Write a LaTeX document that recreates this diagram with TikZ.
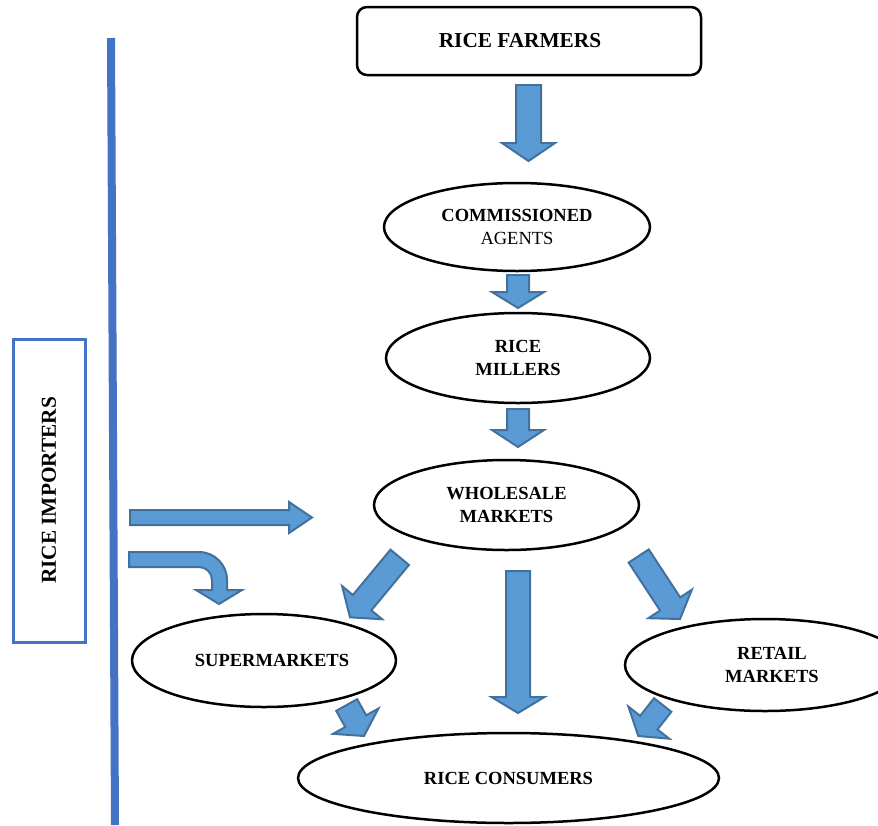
\documentclass[tikz,border=0pt]{standalone}
\usepackage{fontspec}
\setmainfont{Liberation Serif}
\usetikzlibrary{calc,shapes.geometric}
\definecolor{arrowfill}{HTML}{5B9BD5}
\definecolor{arrowline}{HTML}{41719C}
\definecolor{impblue}{HTML}{4472C4}
% #1 tail coordinate, #2 tip coordinate, #3 half shaft width, #4 half head width, #5 head length
\newcommand\blockarrow[5]{%
  \coordinate (b-#2) at ($(#2)!#5pt!(#1)$);
  \draw[barrow] ($(#1)!#3pt!90:(#2)$) -- ($(b-#2)!#3pt!-90:(#1)$) -- ($(b-#2)!#4pt!-90:(#1)$)
    -- (#2) -- ($(b-#2)!#4pt!90:(#1)$) -- ($(b-#2)!#3pt!90:(#1)$) -- ($(#1)!#3pt!-90:(#2)$) -- cycle;
}
\begin{document}
\begin{tikzpicture}[x=1pt,y=-1pt,
  barrow/.style={fill=arrowfill,draw=arrowline,line width=2pt,line join=miter},
  oval/.style={ellipse,draw=black,line width=2.5pt,inner sep=0pt,align=center,
    font=\fontsize{18.5}{22.5}\selectfont\bfseries},
  boxtext/.style={font=\fontsize{21.3}{25}\selectfont\bfseries}]
\path[use as bounding box,clip] (0,0) rectangle (878,825);

% nodes
\node[draw,line width=2.5pt,rounded corners=10pt,minimum width=344pt,minimum height=68pt,boxtext] (farmers) at (529,41) {RICE FARMERS\hspace*{18pt}};
\node[oval,minimum width=266pt,minimum height=88pt] (agents) at (517,227) {COMMISSIONED\\{\mdseries AGENTS}};
\node[oval,minimum width=264pt,minimum height=90pt] (millers) at (518,358) {RICE\\MILLERS};
\node[oval,minimum width=265pt,minimum height=90pt] (wholesale) at (506.5,505) {WHOLESALE\\MARKETS};
\node[oval,minimum width=264pt,minimum height=93pt] (super) at (264,660.5) {\hspace*{16pt}SUPERMARKETS};
\node[oval,minimum width=280pt,minimum height=92pt] (retail) at (765,665) {\hspace*{14pt}RETAIL\\\hspace*{14pt}MARKETS};
\node[oval,minimum width=421pt,minimum height=90pt] (consumers) at (508.5,778) {RICE CONSUMERS};
\node[draw=impblue,line width=3pt,rotate=90,minimum width=303pt,minimum height=72pt,boxtext] (importers) at (49,490.5) {RICE IMPORTERS};

% vertical divider
\coordinate (vtop) at (111,38);
\coordinate (vbot) at (115,825);
\draw[impblue,line width=8pt] (vtop) -- (vbot);

% arrow end points
\coordinate (a1s) at (528.5,85);   \coordinate (a1e) at (528.5,161);
\coordinate (a2s) at (518,275);    \coordinate (a2e) at (518,308);
\coordinate (a3s) at (518,409);    \coordinate (a3e) at (518,447);
\coordinate (hs) at (130,517.5);   \coordinate (he) at (312,517.5);
\coordinate (dls) at (399.7,557.3); \coordinate (dle) at (350,617.3);
\coordinate (dms) at (518,571);    \coordinate (dme) at (518,713);
\coordinate (drs) at (638.7,556);  \coordinate (dre) at (680,619);
\coordinate (sls) at (346.7,705);  \coordinate (sle) at (364,736);
\coordinate (srs) at (662.7,705);  \coordinate (sre) at (638.3,736);

\blockarrow{a1s}{a1e}{12.5}{26.5}{18}
\blockarrow{a2s}{a2e}{11}{26}{16}
\blockarrow{a3s}{a3e}{11}{26}{17}
\blockarrow{hs}{he}{7.5}{15.5}{23}
\blockarrow{dls}{dle}{12}{26}{19}
\blockarrow{dms}{dme}{12}{26.5}{16}
\blockarrow{drs}{dre}{12}{26}{18}
\blockarrow{sls}{sle}{12}{26}{17}
\blockarrow{srs}{sre}{11}{26}{17}

% bent arrow from importers to supermarkets
\coordinate (bs) at (129,559.5);
\coordinate (be) at (219,604);
\draw[barrow] (129,552) -- (199,552) arc[start angle=90,end angle=0,radius=28pt] -- (227,590) -- (242,590)
  -- (be) -- (196,590) -- (212,590) -- (212,580) arc[start angle=0,end angle=90,radius=13pt] -- (bs |- 0,567) -- cycle;
\end{tikzpicture}
\end{document}
